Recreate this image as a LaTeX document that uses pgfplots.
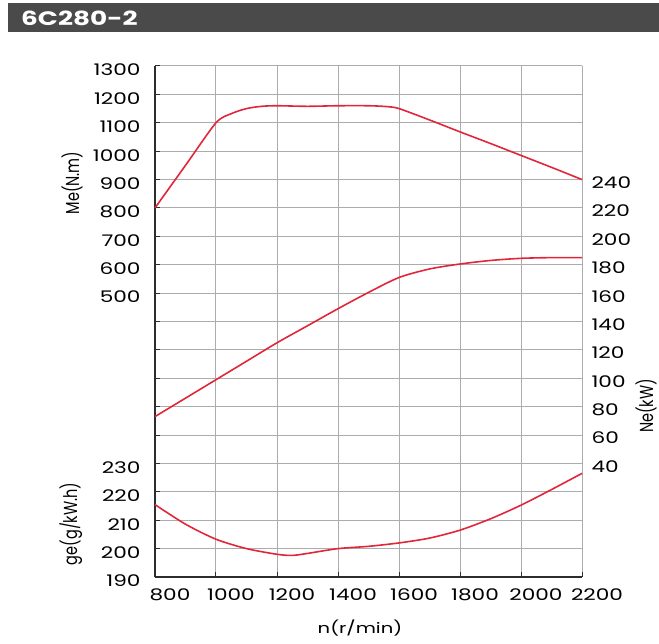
\documentclass[border=0pt]{standalone}
\usepackage{fontspec}
\setmainfont{Poppins}
\newfontfamily\widefont[FakeStretch=1.35]{Poppins}
\usepackage{pgfplots}
\pgfplotsset{compat=1.18}
\definecolor{curve}{RGB}{226,38,58}
\definecolor{gridc}{RGB}{172,172,172}
\definecolor{axc}{RGB}{45,45,45}
\definecolor{barc}{RGB}{74,74,74}
\newcommand{\tickfont}{\widefont\fontsize{16}{16}\selectfont}
\newcommand{\labfont}{\fontsize{14.5}{14.5}\selectfont}
\newcommand{\hlabfont}{\widefont\fontsize{14.5}{14.5}\selectfont}
\begin{document}
\begin{tikzpicture}
% title bar
\fill[barc] (7.5pt,-3.5pt) rectangle (659pt,-32.5pt);
\node[anchor=west, text=white, inner sep=0pt, font=\widefont\fontsize{19.5}{19.5}\selectfont\bfseries] at (21pt,-18.5pt) {6C280-2};

\pgfplotsset{
  common/.style={
    scale only axis, width=427pt, height=511pt,
    at={(155pt,-577pt)}, anchor=south west,
    xmin=800, xmax=2200, clip=false,
    /pgf/number format/assume math mode=true,
    ticklabel style={font=\tickfont},
  },
  curvestyle/.style={color=curve, line width=1.6pt, smooth, tension=0.45, no markers},
}

% main axis: torque Me (left scale) + grid
\begin{axis}[common,
  ymin=-500, ymax=1300,
  axis lines=left,
  axis line style={-, line width=1.8pt, color=axc},
  xtick={800,1000,1200,1400,1600,1800,2000,2200},
  xticklabels={800,1000,1200,1400,1600,1800,2000,2200},
  ytick={-500,-400,-300,-200,-100,0,100,200,300,400,500,600,700,800,900,1000,1100,1200,1300},
  yticklabels={190,200,210,220,230,{},{},{},{},{},500,600,700,800,900,1000,1100,1200,1300},
  grid=major, grid style={color=gridc, line width=1pt},
  tick align=inside, major tick length=5pt,
  tick style={color=axc, line width=1pt},
  xticklabel style={xshift=15pt, yshift=-8pt},
  yticklabel style={xshift=-11pt, yshift=-4pt},
  xlabel={n(r/min)}, xlabel style={font=\hlabfont, at={(axis description cs:0.48,-0.10)}, anchor=center},
  ylabel={Me(N.m)}, ylabel style={font=\labfont, at={(axis description cs:-0.194,0.771)}, anchor=center, yscale=1.3},
]
\addplot[curvestyle] coordinates {
(800,800) (900,950) (1000,1100) (1050,1132) (1100,1150) (1150,1158) (1200,1160)
(1300,1158) (1400,1160) (1500,1160) (1560,1157) (1600,1150) (1700,1110)
(1800,1068) (1900,1027) (2000,985) (2100,943) (2200,900)
};
\node[rotate=90, yscale=1.3, font=\labfont] at (axis description cs:-0.197,0.104) {ge(g/kW.h)};
\end{axis}

% power Ne (right scale)
\begin{axis}[common,
  ymin=-40, ymax=320,
  axis x line=none,
  axis y line*=right,
  y axis line style={draw=none},
  ytick={40,60,80,100,120,140,160,180,200,220,240},
  yticklabels={40,60,80,100,120,140,160,180,200,220,240},
  major tick length=0pt, ytick style={draw=none},
  yticklabel style={xshift=6pt, yshift=-3pt},
  ylabel={Ne(kW)}, ylabel style={font=\labfont, at={(axis description cs:1.150,0.335)}, anchor=center, yscale=1.3},
]
\addplot[curvestyle] coordinates {
(800,73) (900,86) (1000,99) (1100,112) (1200,125) (1300,137) (1400,149)
(1500,160.5) (1600,171) (1700,177) (1800,180.5) (1900,183) (2000,184.5)
(2100,185) (2200,185)
};
\end{axis}

% specific fuel consumption ge (bottom-left scale)
\begin{axis}[common,
  ymin=190, ymax=370,
  hide axis,
]
\addplot[curvestyle] coordinates {
(800,215.5) (900,208.6) (1000,203.3) (1100,200) (1200,198) (1250,197.6)
(1300,198.3) (1400,200) (1500,200.8) (1600,202) (1700,203.7) (1800,206.5)
(1900,210.5) (2000,215.3) (2100,220.8) (2200,226.5)
};
\end{axis}

\pgfresetboundingbox
\path[use as bounding box] (0,0) rectangle (659pt,-644pt);
\end{tikzpicture}
\end{document}
